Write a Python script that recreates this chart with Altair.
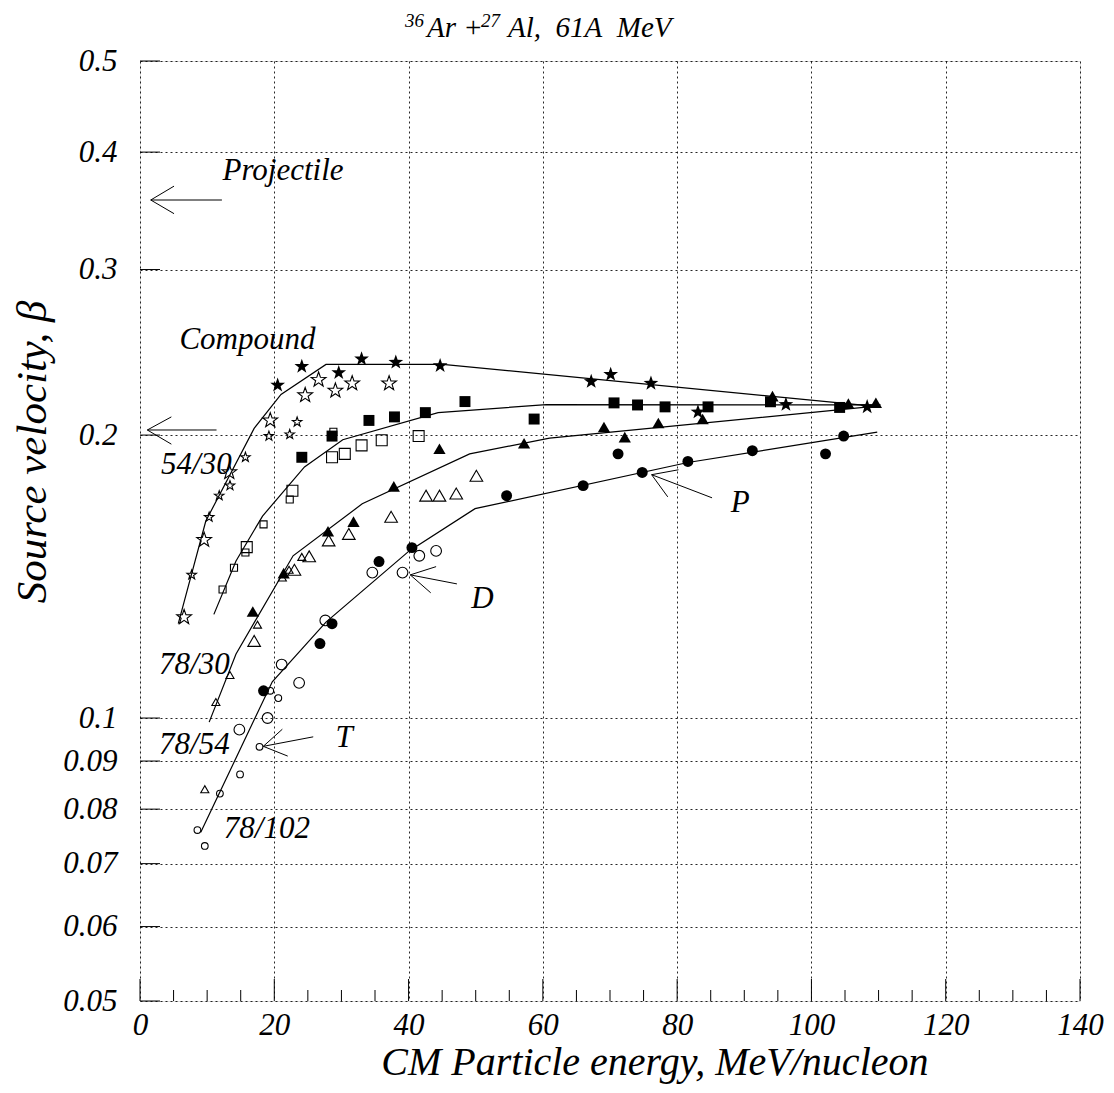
import altair as alt
import pandas as pd

# ---------------- data ----------------
# filled stars / large open stars / small open stars
star_f_x = [20.5, 24.1, 29.6, 33.0, 38.1, 44.7, 67.2, 70.1, 76.1, 83.1, 96.2, 108.3]
star_f_y = [0.226, 0.2366, 0.233, 0.241, 0.239, 0.237, 0.228, 0.232, 0.227, 0.2116, 0.2155, 0.2143]
star_d_x = [26.6, 24.6, 29.1, 31.6, 37.1, 19.4, 13.3, 9.55, 6.57]
star_d_y = [0.229, 0.2205, 0.223, 0.227, 0.227, 0.2073, 0.1826, 0.1547, 0.128]
star_t_x = [23.4, 19.2, 22.3, 15.7, 13.4, 11.8, 10.3, 7.7]
star_t_y = [0.2065, 0.1995, 0.2003, 0.1894, 0.1767, 0.1724, 0.1636, 0.142]

sq_f_x = [24.1, 28.6, 34.1, 37.9, 42.5, 48.4, 58.7, 70.6, 74.1, 78.2, 84.6, 93.9, 104.2]
sq_f_y = [0.1894, 0.1995, 0.2073, 0.2091, 0.2113, 0.2171, 0.208, 0.2164, 0.2153, 0.2143, 0.2143, 0.217, 0.214]
sq_d_x = [28.6, 30.5, 33.0, 36.0, 41.5, 22.7, 15.9]
sq_d_y = [0.1894, 0.191, 0.195, 0.1975, 0.1995, 0.1745, 0.152]
sq_t_x = [28.8, 22.3, 18.4, 15.7, 14.0, 12.3]
sq_t_y = [0.2016, 0.1708, 0.1607, 0.15, 0.1445, 0.137]

tri_f_x = [44.6, 37.8, 31.8, 28.0, 21.4, 16.8, 57.2, 69.1, 72.2, 77.2, 83.8, 94.2, 105.5, 109.6]
tri_f_y = [0.1934, 0.1764, 0.1618, 0.158, 0.1426, 0.1298, 0.196, 0.204, 0.199, 0.206, 0.208, 0.22, 0.216, 0.2165]
tri_d_x = [50.1, 42.6, 44.6, 47.1, 37.4, 31.1, 28.1, 25.2, 23.0, 17.0]
tri_d_y = [0.181, 0.1724, 0.1724, 0.1733, 0.1637, 0.157, 0.1545, 0.1486, 0.1438, 0.1208]
tri_t_x = [24.1, 22.2, 21.2, 17.5, 13.4, 11.3, 9.65]
tri_t_y = [0.1484, 0.1438, 0.1411, 0.1257, 0.1111, 0.104, 0.084]

cir_f_x = [40.5, 35.6, 28.6, 26.8, 18.4, 54.6, 66.0, 71.2, 74.8, 81.6, 91.2, 102.1, 104.8]
cir_f_y = [0.1518, 0.1467, 0.126, 0.12, 0.1069, 0.1724, 0.1767, 0.191, 0.1825, 0.1875, 0.1925, 0.191, 0.1995]
cir_d_x = [41.6, 44.1, 34.6, 39.1, 27.6, 21.1, 23.7, 19.0, 14.8]
cir_d_y = [0.1488, 0.1506, 0.1428, 0.1428, 0.127, 0.114, 0.109, 0.1, 0.0972]
cir_t_x = [19.4, 20.6, 17.8, 14.9, 11.9, 8.55, 9.65]
cir_t_y = [0.1069, 0.105, 0.0932, 0.0871, 0.0831, 0.076, 0.0731]

# fitted curves
line1_x = [5.7, 9.8, 17.0, 21.0, 27.7, 45.1, 110.3]
line1_y = [0.126, 0.162, 0.2033, 0.2209, 0.2378, 0.2378, 0.2143]
line2_x = [11.0, 14.3, 18.25, 24.5, 30.2, 44.4, 60.5, 110.3]
line2_y = [0.1289, 0.1469, 0.164, 0.185, 0.1977, 0.2113, 0.2155, 0.2153]
line3_x = [10.3, 14.3, 22.8, 33.1, 49.1, 61.0, 110.0]
line3_y = [0.099, 0.117, 0.1488, 0.169, 0.191, 0.1985, 0.2148]
line4_x = [9.05, 19.7, 27.7, 40.1, 49.9, 81.6, 109.8]
line4_y = [0.0756, 0.1093, 0.1265, 0.1506, 0.167, 0.187, 0.2014]

# arrows: tip, tail, barb1, barb2
arrow_tip_x = [1.6, 1.09, 76.2, 40.25, 18.36]
arrow_tip_y = [0.3557, 0.2025, 0.1815, 0.142, 0.0933]
arrow_tail_x = [12.2, 11.4, 85.2, 47.2, 25.8]
arrow_tail_y = [0.3557, 0.2025, 0.1715, 0.1389, 0.0955]
arrow_b1_x = [5.07, 4.67, 80.2, 44.1, 21.2]
arrow_b1_y = [0.368, 0.2091, 0.1837, 0.1449, 0.0973]
arrow_b2_x = [5.07, 4.67, 78.6, 43.3, 22.0]
arrow_b2_y = [0.344, 0.1956, 0.1719, 0.1359, 0.0911]

# annotations
label_text = ["Projectile", "Compound", "54/30", "78/30", "78/54", "78/102", "P", "D", "T"]
label_x = [21.3, 16.0, 8.4, 8.1, 8.1, 18.9, 89.4, 51.0, 30.4]
label_y = [0.3816, 0.2523, 0.186, 0.1139, 0.0937, 0.0762, 0.1693, 0.134, 0.0953]

x_ticks = [0, 20, 40, 60, 80, 100, 120, 140]
x_minor = [5, 10, 15, 25, 30, 35, 45, 50, 55, 65, 70, 75, 85, 90, 95, 105, 110, 115, 125, 130, 135]
y_ticks = [0.05, 0.06, 0.07, 0.08, 0.09, 0.1, 0.2, 0.3, 0.4, 0.5]

# title pieces: normal text and superscripts (36Ar + 27Al, 61A MeV)
title_parts = ["36", "Ar +", "27", "Al,\u00a0 61A\u00a0 MeV"]
title_sup = [True, False, True, False]
x_title = "CM Particle energy, MeV/nucleon"
y_title = "Source velocity, \u03b2"

# ---------------- chart ----------------
W, H = 940, 940
FONT = "Liberation Serif"

xaxis = alt.Axis(values=x_ticks, format="d", grid=True, gridDash=[2, 3], gridColor="black",
                 gridOpacity=0.85, gridWidth=1, ticks=False, tickSize=0, domain=False,
                 labelFont=FONT, labelFontStyle="italic", labelFontSize=31, labelColor="black",
                 labelPadding=9, labelFlush=False,
                 title=x_title, titleFont=FONT, titleFontStyle="italic", titleFontWeight="normal",
                 titleFontSize=40, titleColor="black", titleAlign="right", titleAnchor="end",
                 titleX=788, titleY=73, titleBaseline="alphabetic")
yaxis = alt.Axis(values=y_ticks, format="~g", grid=True, gridDash=[2, 3], gridColor="black",
                 gridOpacity=0.85, gridWidth=1, ticks=False, tickSize=0, domain=False,
                 labelFont=FONT, labelFontStyle="italic", labelFontSize=31, labelColor="black",
                 labelPadding=23, labelFlush=False,
                 title=y_title, titleFont=FONT, titleFontStyle="italic", titleFontWeight="normal",
                 titleFontSize=43, titleColor="black", titleAngle=270, titleAlign="right",
                 titleBaseline="alphabetic", titleX=-95, titleY=239)

xs = alt.Scale(domain=[0, 140], nice=False, zero=False)
ys = alt.Scale(type="log", domain=[0.05, 0.5], nice=False)
X = alt.X("x:Q", scale=xs, axis=xaxis)
Y = alt.Y("y:Q", scale=ys, axis=yaxis)

STAR = ("M0,-1L0.235,-0.324L0.951,-0.309L0.38,0.124L0.588,0.809L0,0.4"
        "L-0.588,0.809L-0.38,0.124L-0.951,-0.309L-0.235,-0.324Z")


def pts(xv, yv):
    return pd.DataFrame({"x": xv, "y": yv})


def scatter(xv, yv, shape, size, filled):
    return alt.Chart(pts(xv, yv)).mark_point(
        shape=shape, size=size, filled=filled, color="black", opacity=1,
        strokeWidth=1.1).encode(x=X, y=Y)


def curve(xv, yv):
    df = pts(xv, yv)
    df["i"] = range(len(df))
    return alt.Chart(df).mark_line(color="black", strokeWidth=1.2).encode(
        x=X, y=Y, order="i:Q")


layers = []
# inner tick marks
layers.append(alt.Chart(pd.DataFrame({"x": x_minor})).mark_rule(color="black", strokeWidth=1).encode(
    x=alt.X("x:Q", scale=xs, axis=xaxis), y=alt.value(H), y2=alt.value(H - 11)))
layers.append(alt.Chart(pd.DataFrame({"x": x_ticks})).mark_rule(color="black", strokeWidth=1).encode(
    x=alt.X("x:Q", scale=xs, axis=xaxis), y=alt.value(H), y2=alt.value(H - 22)))
layers.append(alt.Chart(pd.DataFrame({"y": y_ticks})).mark_rule(color="black", strokeWidth=1).encode(
    y=alt.Y("y:Q", scale=ys, axis=yaxis), x=alt.value(0), x2=alt.value(20)))

for lx, ly in [(line1_x, line1_y), (line2_x, line2_y), (line3_x, line3_y), (line4_x, line4_y)]:
    layers.append(curve(lx, ly))

layers += [
    scatter(star_d_x, star_d_y, STAR, 240, False),
    scatter(star_t_x, star_t_y, STAR, 100, False),
    scatter(star_f_x, star_f_y, STAR, 240, True),
    scatter(sq_d_x, sq_d_y, "square", 120, False),
    scatter(sq_t_x, sq_t_y, "square", 50, False),
    scatter(sq_f_x, sq_f_y, "square", 120, True),
    scatter(tri_d_x, tri_d_y, "triangle-up", 160, False),
    scatter(tri_t_x, tri_t_y, "triangle-up", 65, False),
    scatter(tri_f_x, tri_f_y, "triangle-up", 150, True),
    scatter(cir_d_x, cir_d_y, "circle", 115, False),
    scatter(cir_t_x, cir_t_y, "circle", 45, False),
    scatter(cir_f_x, cir_f_y, "circle", 120, True),
]

# arrows
for ex, ey in [(arrow_tail_x, arrow_tail_y), (arrow_b1_x, arrow_b1_y), (arrow_b2_x, arrow_b2_y)]:
    adf = pd.DataFrame({"x": arrow_tip_x, "y": arrow_tip_y, "x2": ex, "y2": ey})
    layers.append(alt.Chart(adf).mark_rule(color="black", strokeWidth=1).encode(
        x=X, y=Y, x2="x2:Q", y2="y2:Q"))

# labels
ldf = pd.DataFrame({"x": label_x, "y": label_y, "t": label_text})
layers.append(alt.Chart(ldf).mark_text(font=FONT, fontStyle="italic", fontSize=31,
                                       color="black", align="center", baseline="middle").encode(
    x=X, y=Y, text="t:N"))

# chart title above the frame, built from pieces so superscripts are raised
title_x = [265, 287, 341, 368]
for part, sup, tx in zip(title_parts, title_sup, title_x):
    layers.append(alt.Chart(pd.DataFrame({"t": [part]})).mark_text(
        font=FONT, fontStyle="italic", fontSize=19 if sup else 29, color="black",
        align="left", baseline="alphabetic").encode(
        x=alt.value(tx), y=alt.value(-34 if sup else -24), text="t:N"))

chart = alt.layer(*layers).properties(
    width=W, height=H,
    autosize=alt.AutoSizeParams(type="none"),
    padding={"left": 132, "top": 53, "right": 25, "bottom": 85},
).configure_view(stroke="black", strokeWidth=1.5).configure(background="white")

chart.save("out.html", embed_options={"renderer": "svg", "actions": False})
